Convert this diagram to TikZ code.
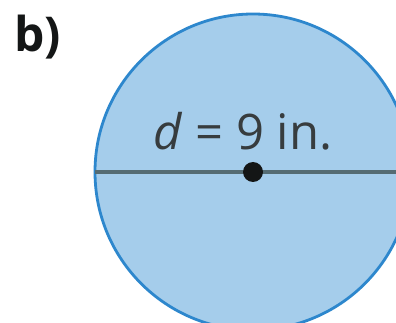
\documentclass[tikz,border=0pt]{standalone}
\usepackage{fontspec}
\setmainfont{Open Sans}
\definecolor{azulrelleno}{RGB}{165, 205, 235}
\definecolor{azulborde}{RGB}{45, 135, 205}
\definecolor{grislinea}{RGB}{85, 108, 115}
\definecolor{textogris}{RGB}{55, 60, 62}
\definecolor{casinegro}{RGB}{20, 22, 22}
\usetikzlibrary{positioning}

\begin{document}
\begin{tikzpicture}[
          x=1pt, y=1pt,
          circulo/.style={draw=azulborde, fill=azulrelleno, line width=2.8pt},
          diametro/.style={draw=grislinea, line width=4.5pt},
          punto/.style={circle, fill=casinegro, inner sep=0pt, minimum size=20pt},
          etiqueta/.style={font=\fontsize{49}{54}\selectfont, text=textogris, inner sep=0pt}
        ]
        \useasboundingbox (0,0) rectangle (396,-323);
        \clip (0,0) rectangle (396,-323);
        \fill[white] (0,0) rectangle (396,-323);
        \coordinate (centro) at (253,-172);
        \draw[circulo] (centro) circle[radius=158];
        \coordinate (izq) at (95,-172);
        \coordinate (der) at (411,-172);
        \draw[diametro] (izq)--(der);
        \node[punto] (pto) at (centro) {};
        \node[etiqueta, anchor=base] (med) at (243,-150) {\textit{d} = 9 in.};
        \node[etiqueta, font=\fontsize{48}{52}\selectfont\bfseries, text=casinegro, anchor=base west] (inciso) at (14,-52) {b)};
      \end{tikzpicture}
\end{document}
